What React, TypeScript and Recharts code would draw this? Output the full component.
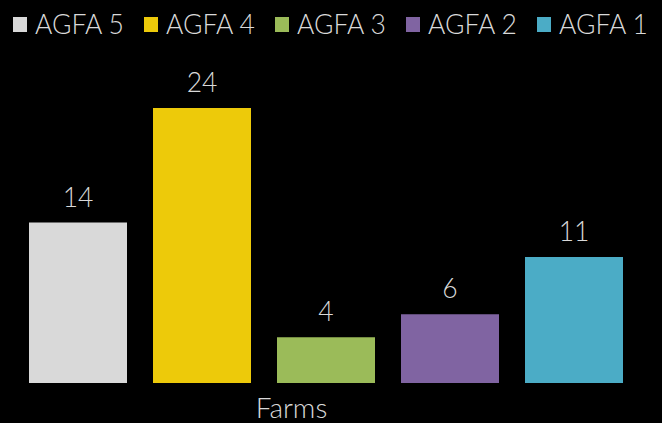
import React from 'react';
import { BarChart, Bar, XAxis, YAxis, LabelList } from 'recharts';

const categories = ['Farms'];
const seriesNames = ['AGFA 5', 'AGFA 4', 'AGFA 3', 'AGFA 2', 'AGFA 1'];
const seriesValues = [14, 24, 4, 6, 11];
const seriesColors = ['#D9D9D9', '#EDCA0A', '#9BBB59', '#8064A2', '#4BACC6'];

const data = categories.map((c) => {
  const row: Record<string, any> = { name: c };
  seriesNames.forEach((s, i) => (row[s] = seriesValues[i]));
  return row;
});

const FONT = '"Lato Light", "Lato Hairline", Lato, sans-serif';
const TEXT = '#D9D9D9';

const LegendBlock = () => (
  <div style={{ position: 'absolute', left: 13, top: 9, display: 'flex', alignItems: 'center' }}>
    {seriesNames.map((s, i) => (
      <div key={s} style={{ display: 'flex', alignItems: 'center', width: 131 }}>
        <div style={{ width: 14, height: 15, background: seriesColors[i], marginRight: 8, marginTop: 1 }} />
        <span style={{ color: TEXT, fontFamily: FONT, fontWeight: 300, fontSize: 26.5, lineHeight: '30px', whiteSpace: 'nowrap' }}>{s}</span>
      </div>
    ))}
  </div>
);

const FarmsTick = (props: any) => {
  const { x, y, payload } = props;
  return (
    <text x={x - 34} y={y + 27} textAnchor="middle" fill={TEXT} fontFamily={FONT} fontWeight={300} fontSize={28}>
      {payload.value}
    </text>
  );
};

export default function App() {
  return (
    <div style={{ position: 'fixed', left: 0, top: 0, width: 662, height: 423, background: '#000', overflow: 'hidden' }}>
      <BarChart
        width={662}
        height={423}
        data={data}
        margin={{ top: 108, right: 25, bottom: 0, left: 14 }}
        barGap={26}
        barSize={98}
      >
        <XAxis dataKey="name" axisLine={false} tickLine={false} height={40} tick={<FarmsTick />} interval={0} />
        <YAxis hide domain={[0, 24]} />
        {seriesNames.map((s, i) => (
          <Bar key={s} dataKey={s} fill={seriesColors[i]} isAnimationActive={false}>
            <LabelList
              dataKey={s}
              position="top"
              offset={16}
              fill={TEXT}
              fontFamily={FONT}
              fontWeight={300}
              fontSize={26.5}
            />
          </Bar>
        ))}
      </BarChart>
      <LegendBlock />
    </div>
  );
}
